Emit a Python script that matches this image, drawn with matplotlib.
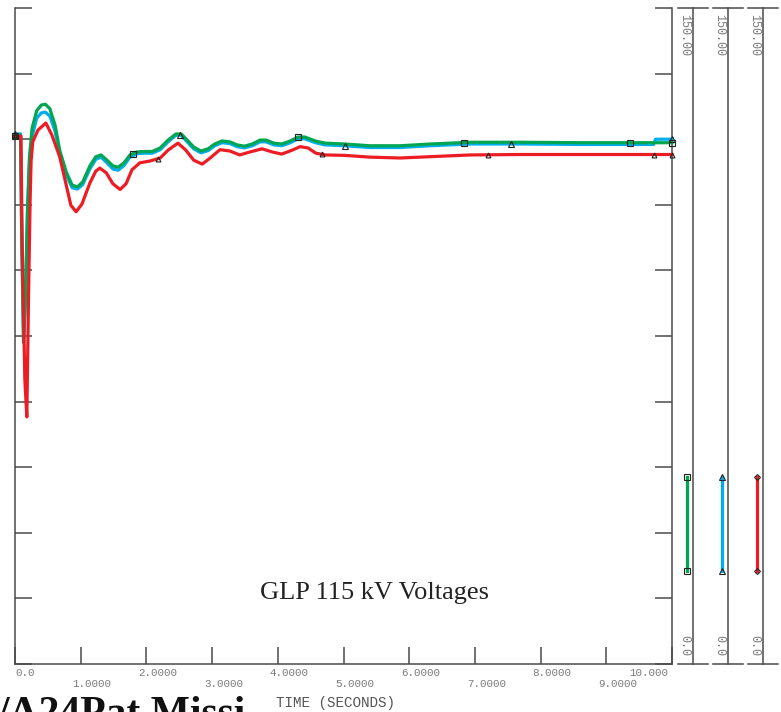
import matplotlib
matplotlib.use("Agg")
import matplotlib.pyplot as plt
import matplotlib.transforms as mtransforms
from matplotlib.lines import Line2D
import numpy as np

# ---------------- data ----------------
green_t = [0.00, 0.085, 0.10, 0.13, 0.16, 0.19, 0.22, 0.26, 0.33, 0.40, 0.46, 0.53, 0.61, 0.68,
           0.78, 0.87, 0.95, 1.03, 1.14, 1.23, 1.31, 1.40, 1.49, 1.57, 1.66, 1.75, 1.86, 1.98,
           2.09, 2.21, 2.33, 2.45, 2.53, 2.62, 2.72, 2.83, 2.94, 3.04, 3.15, 3.27, 3.38, 3.49,
           3.61, 3.73, 3.82, 3.94, 4.06, 4.19, 4.31, 4.41, 4.57, 4.72, 5.02, 5.40, 5.86, 6.32,
           6.93, 7.69, 8.60, 9.51, 10.00]
green_v = [120.8, 120.8, 100.0, 73.5, 84.0, 104.0, 116.0, 122.5, 126.5, 127.8, 128.0, 127.0, 123.2, 117.5,
           112.5, 109.5, 109.1, 110.2, 113.9, 116.0, 116.4, 115.2, 113.9, 113.6, 114.6, 116.4, 117.1, 117.2,
           117.2, 118.0, 119.8, 121.2, 121.2, 119.8, 118.2, 117.3, 117.8, 118.9, 119.6, 119.4, 118.7, 118.4,
           118.9, 119.8, 119.8, 119.1, 118.9, 119.6, 120.5, 120.5, 119.6, 119.1, 118.9, 118.5, 118.5, 118.9,
           119.3, 119.3, 119.2, 119.2, 119.2]

blue_t = [0.00, 0.085, 0.10, 0.13, 0.16, 0.19, 0.22, 0.26, 0.33, 0.40, 0.46, 0.53, 0.61, 0.68,
          0.78, 0.87, 0.95, 1.03, 1.14, 1.23, 1.31, 1.40, 1.49, 1.57, 1.66, 1.75, 1.86, 1.98,
          2.09, 2.21, 2.33, 2.45, 2.53, 2.62, 2.72, 2.83, 2.94, 3.04, 3.15, 3.27, 3.38, 3.49,
          3.61, 3.73, 3.82, 3.94, 4.06, 4.19, 4.31, 4.41, 4.57, 4.72, 5.02, 5.40, 5.86, 6.32,
          6.93, 7.69, 8.60, 9.51, 9.72, 9.75, 10.00]
blue_v = [121.2, 121.2, 100.5, 74.0, 83.5, 103.0, 114.5, 120.5, 124.8, 126.0, 126.2, 125.3, 121.8, 116.7,
          111.8, 108.9, 108.6, 109.6, 113.2, 115.4, 115.9, 114.6, 113.2, 112.9, 114.0, 115.9, 116.7, 116.8,
          116.8, 117.6, 119.4, 120.9, 120.9, 119.4, 117.8, 116.9, 117.4, 118.5, 119.2, 119.0, 118.3, 118.0,
          118.5, 119.4, 119.4, 118.7, 118.5, 119.2, 120.1, 120.1, 119.2, 118.7, 118.5, 118.1, 118.1, 118.5,
          118.9, 118.9, 118.8, 118.8, 118.8, 120.0, 120.0]

red_t = [0.00, 0.09, 0.11, 0.15, 0.18, 0.205, 0.23, 0.245, 0.27, 0.35, 0.47, 0.56, 0.68, 0.78,
         0.85, 0.93, 1.02, 1.14, 1.23, 1.29, 1.39, 1.49, 1.60, 1.69, 1.78, 1.90, 2.05, 2.21,
         2.33, 2.48, 2.60, 2.72, 2.85, 2.97, 3.12, 3.27, 3.42, 3.58, 3.76, 3.91, 4.06, 4.22,
         4.34, 4.46, 4.58, 4.72, 5.02, 5.40, 5.86, 6.32, 6.93, 7.69, 8.60, 9.51, 10.00]
red_v = [120.7, 120.7, 95.0, 65.0, 56.5, 83.0, 106.0, 115.0, 119.4, 122.1, 123.7, 121.0, 116.0, 109.5,
         104.9, 103.4, 105.2, 110.0, 112.7, 113.4, 112.3, 109.8, 108.5, 109.8, 113.0, 114.6, 115.0, 115.7,
         117.5, 119.1, 117.5, 115.2, 114.3, 115.7, 117.6, 117.3, 116.4, 117.1, 117.8, 117.1, 116.6, 117.5,
         118.3, 118.0, 116.8, 116.4, 116.3, 115.9, 115.7, 116.0, 116.4, 116.5, 116.5, 116.5, 116.5]

green_marks = [0.0, 1.80, 4.31, 6.83, 9.36, 10.0]
blue_marks = [0.0, 2.51, 5.02, 7.55, 10.0]
red_marks = [0.0, 2.18, 4.67, 7.20, 9.73, 10.0]

x_ticks = [0, 1, 2, 3, 4, 5, 6, 7, 8, 9, 10]
x_tick_labels = ["0.0", "1.0000", "2.0000", "3.0000", "4.0000", "5.0000",
                 "6.0000", "7.0000", "8.0000", "9.0000", "10.000"]
y_ticks = [0, 15, 30, 45, 60, 75, 90, 105, 120, 135, 150]
scale_top = "150.00"
scale_bottom = "0.0"
title = "GLP 115 kV Voltages"
x_label = "TIME (SECONDS)"
bottom_caption = "/A24Pat Missi"

GREEN = "#00A651"
BLUE = "#00AEEF"
RED = "#ED1C24"
AXC = "#4a4a4a"
TXC = "#7a7a7a"
MONO = ["Liberation Mono", "DejaVu Sans Mono"]
SERIF = ["Liberation Serif", "DejaVu Serif"]

# ---------------- figure ----------------
W, H = 781, 712
fig = plt.figure(figsize=(W / 100, H / 100), dpi=100)


def fx(px):
    return px / W


def fy(py):
    return 1 - py / H


ax = fig.add_axes([fx(15), fy(664), 657 / W, 656 / H])
ax.set_xlim(0, 10)
ax.set_ylim(0, 150)
ax.spines["top"].set_visible(False)
for s in ("left", "right", "bottom"):
    ax.spines[s].set_color(AXC)
    ax.spines[s].set_linewidth(1.1)
ax.set_xticks(x_ticks)
ax.set_yticks(y_ticks)
ax.tick_params(axis="both", direction="in", length=12, width=1.1, color=AXC,
               labelbottom=False, labelleft=False, left=True, right=True,
               bottom=True, top=False)

lw = 2.3
ax.plot(blue_t, blue_v, color=BLUE, lw=lw, zorder=3, clip_on=False)
ax.plot(green_t, green_v, color=GREEN, lw=lw, zorder=4, clip_on=False)
ax.plot(red_t, red_v, color=RED, lw=lw, zorder=5, clip_on=False)

mk = dict(markerfacecolor="none", markeredgecolor="#222222", markeredgewidth=0.8,
          linestyle="none", zorder=6, clip_on=False)
ax.plot(green_marks, np.interp(green_marks, green_t, green_v), marker="s", markersize=4.5, **mk)
ax.plot(blue_marks, np.interp(blue_marks, blue_t, blue_v), marker="^", markersize=4.0, **mk)
ax.plot(red_marks, np.interp(red_marks, red_t, red_v), marker="^", markersize=3.5, **mk)

# x tick labels (staggered rows)
for val, lab in zip(x_ticks, x_tick_labels):
    row_y = fy(673) if val % 2 == 0 else fy(684)
    if val == 0:
        off = 0
        ha = "left"
    elif val == 10:
        off = -4
        ha = "right"
    else:
        off = -8
        ha = "left"
    tr = mtransforms.blended_transform_factory(ax.transData, fig.transFigure) + \
        mtransforms.ScaledTranslation(off / 100, 0, fig.dpi_scale_trans)
    fig.text(val, row_y, lab, transform=tr, ha=ha, va="center",
             fontsize=7.8, family=MONO, color=TXC)

fig.text(fx(276), fy(703), x_label, ha="left", va="center", fontsize=10.3,
         family=MONO, color="#555555")

fig.text(fx(375), fy(593), title, ha="center", va="center", fontsize=19,
         family=SERIF, color="#222222")

fig.text(fx(-3), fy(725), bottom_caption, ha="left", va="baseline", fontsize=30,
         family=SERIF, fontweight="bold", color="#111111")

# right-hand scale axes with legend strokes
scale_x = [693, 728, 763]
colors = [GREEN, BLUE, RED]
markers = ["s", "^", "D"]
for sx, c, m in zip(scale_x, colors, markers):
    fig.add_artist(Line2D([fx(sx), fx(sx)], [fy(8), fy(664)], transform=fig.transFigure,
                          color=AXC, lw=1.1))
    for yy in (8, 664):
        fig.add_artist(Line2D([fx(sx - 15), fx(sx + 15)], [fy(yy), fy(yy)],
                              transform=fig.transFigure, color=AXC, lw=1.1))
    fig.text(fx(sx - 9), fy(14), scale_top, rotation=270, ha="center", va="top",
             fontsize=8.5, family=MONO, color=TXC)
    fig.text(fx(sx - 9), fy(656), scale_bottom, rotation=270, ha="center", va="bottom",
             fontsize=8.5, family=MONO, color=TXC)
    fig.add_artist(Line2D([fx(sx - 6), fx(sx - 6)], [fy(477), fy(571)], transform=fig.transFigure,
                          color=c, lw=2.3))
    fig.add_artist(Line2D([fx(sx - 6), fx(sx - 6)], [fy(477), fy(571)], transform=fig.transFigure,
                          marker=m, markersize=4.0 if m != "D" else 3.0, linestyle="none",
                          markerfacecolor="none", markeredgecolor="#222222", markeredgewidth=0.8))

fig.savefig("out.png", dpi=100)
